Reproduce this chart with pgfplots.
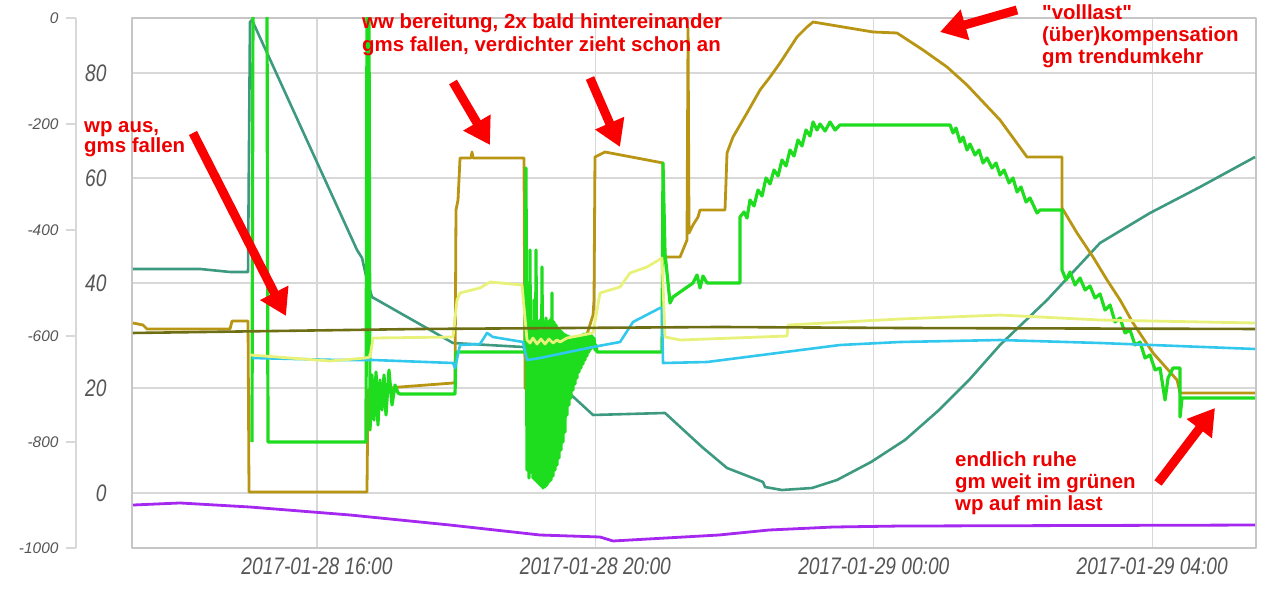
\documentclass[border=0pt]{standalone}
\usepackage{pgfplots}
\pgfplotsset{compat=1.18}
\usepackage{fontspec}
\setmainfont{Liberation Sans}[Ligatures=TeXOff]
\newfontfamily\narrowit{Liberation Sans}[FakeStretch=0.8]
\usetikzlibrary{arrows.meta}
\definecolor{cteal}{RGB}{61,154,128}
\definecolor{cgold}{RGB}{184,150,20}
\definecolor{cgreen}{RGB}{30,220,30}
\definecolor{cyell}{RGB}{232,242,122}
\definecolor{colive}{RGB}{110,110,20}
\definecolor{cblue}{RGB}{50,200,238}
\definecolor{cpurp}{RGB}{165,40,240}
\definecolor{cred}{RGB}{238,0,0}
\definecolor{carrow}{RGB}{250,0,0}
\definecolor{cgrid}{RGB}{216,216,216}
\definecolor{ctick}{RGB}{85,85,85}
\begin{document}
\begin{tikzpicture}
\useasboundingbox (-132bp,-43bp) rectangle (1148bp,548bp);
% outer (left) axis -1000..0
\begin{axis}[at={(-56bp,0bp)}, anchor=south west, scale only axis,
  width=1124bp, height=530bp, xmin=0, xmax=1, ymin=-1000, ymax=0,
  axis y line*=left, hide x axis,
  ytick={-1000,-800,-600,-400,-200,0},
  yticklabels={-1000,-800,-600,-400,-200,0},
  y axis line style={draw=cgrid, line width=1.2bp},
  ytick style={draw=cgrid, line width=1.2bp},
  tick align=outside, major tick length=10bp,
  yticklabel style={font=\itshape\fontsize{15.5}{16}\selectfont, text=ctick, xshift=-4bp}]
\addplot[draw=none, forget plot] coordinates {(0.5,-500)};
\end{axis}
% main axis
\begin{axis}[at={(0bp,0bp)}, anchor=south west, scale only axis,
  width=1124bp, height=530bp,
  xmin=13.342, xmax=29.491, ymin=-10.476, ymax=90.476,
  xtick={16,20,24,28},
  xticklabels={2017-01-28 16:00,2017-01-28 20:00,2017-01-29 00:00,2017-01-29 04:00},
  ytick={0,20,40,60,80}, yticklabels={0,20,40,60,80},
  grid=major, grid style={draw=cgrid, line width=1.2bp},
  axis line style={draw=gray!45, line width=1.2bp},
  major tick length=0pt,
  tick label style={font=\narrowit\itshape\fontsize{24}{24}\selectfont, text=ctick},
  xticklabel style={yshift=-6bp},
  yticklabel style={xshift=-22bp},
  line join=round]
% teal
\addplot[cteal, line width=2.6bp] coordinates {
(13.356,42.67)(14.319,42.67)(14.750,42.10)(15.009,42.10)(15.037,89.71)(15.066,90.10)
(16.575,46.29)(16.647,44.76)(16.718,40.57)(16.790,37.33)(17.954,28.57)(18.960,27.81)
(19.276,23.43)(19.606,19.24)(19.966,14.86)(21.000,15.24)(21.532,8.76)(21.891,4.76)
(22.408,2.10)(22.437,1.14)(22.681,0.57)(23.112,0.95)(23.471,2.48)(23.960,5.90)
(24.448,10.10)(24.937,15.81)(25.368,21.52)(25.813,28.19)(26.489,36.76)(27.250,47.62)
(27.968,53.33)(28.687,58.29)(29.477,64.00)};
% gold
\addplot[cgold, line width=2.8bp] coordinates {
(13.356,32.38)(13.500,32.00)(13.557,31.24)(14.750,31.24)(14.779,32.76)(15.009,32.76)
(15.023,0.19)(16.718,0.19)(16.733,19.62)(17.193,20.19)(17.954,20.95)(17.983,20.95)
(17.997,53.90)(18.026,55.81)(18.055,63.81)(18.213,63.81)(18.227,64.95)(18.241,63.81)
(18.974,63.81)(18.989,20.00)(19.204,17.71)(19.420,20.57)(19.606,24.76)(19.822,27.81)
(19.966,33.90)(19.980,36.76)(19.994,64.00)(20.138,64.95)(20.971,62.86)(20.986,44.95)
(21.216,44.95)(21.316,48.19)(21.331,88.57)(21.345,49.52)(21.402,51.05)(21.474,52.57)
(21.503,53.90)(21.862,53.90)(21.891,64.76)(21.977,67.81)(22.178,72.38)(22.365,76.76)
(22.509,79.24)(22.652,81.90)(22.897,86.86)(23.040,88.76)(23.127,89.71)(23.989,87.81)
(24.333,87.62)(24.707,84.38)(25.052,81.14)(25.339,77.71)(25.813,71.05)(26.201,64.00)
(26.704,64.00)(26.704,54.29)(26.920,49.52)(27.150,44.95)(27.351,40.57)(27.538,36.76)
(27.724,32.38)(28.012,26.67)(28.357,21.52)(28.400,19.05)(29.477,19.05)};
% green
\addplot[cgreen, line width=3.2bp] coordinates {
(15.066,9.71)(15.080,92.00)(15.282,92.00)(15.296,9.71)(16.704,9.71)(16.718,92.00)
(16.747,92.00)(16.762,12.00)(16.790,22.48)(16.819,13.90)(16.848,23.05)(16.876,12.95)
(16.905,21.52)(16.934,15.81)(16.963,22.48)(16.991,14.86)(17.034,23.43)(17.078,16.76)
(17.121,20.57)(17.164,19.05)(17.193,18.86)(17.983,18.86)(17.997,26.86)(18.989,26.86)
(19.003,61.90)(19.017,4.38)(19.032,32.57)(19.046,2.86)(19.060,46.29)(19.075,4.00)
(19.089,32.57)(19.103,2.86)(19.118,36.76)(19.132,2.48)(19.147,46.29)(19.161,2.10)
(19.175,32.57)(19.190,1.71)(19.204,32.95)(19.218,1.33)(19.233,43.05)(19.247,0.95)
(19.261,32.57)(19.276,1.14)(19.290,33.33)(19.305,1.52)(19.319,32.57)(19.333,2.10)
(19.348,32.95)(19.362,2.48)(19.376,38.10)(19.391,3.24)(19.405,32.57)(19.420,4.38)
(19.434,32.00)(19.448,5.33)(19.463,31.43)(19.477,6.67)(19.491,31.05)(19.506,8.19)
(19.520,30.67)(19.535,9.71)(19.549,30.29)(19.563,11.62)(19.578,30.10)(19.592,14.86)
(19.606,29.90)(19.621,16.76)(19.635,29.71)(19.649,18.10)(19.664,29.52)(19.678,19.62)
(19.693,29.52)(19.707,20.76)(19.721,29.52)(19.736,21.90)(19.750,29.71)(19.764,23.05)
(19.779,29.90)(19.793,23.81)(19.808,30.10)(19.822,24.57)(19.836,30.29)(19.851,25.33)
(19.865,30.29)(19.879,26.10)(19.894,30.29)(19.908,26.86)(19.923,30.29)(19.937,27.43)
(19.951,29.90)(19.966,28.00)(19.980,29.52)(19.994,27.24)(20.009,28.19)(20.023,26.86)
(20.957,26.86)(20.971,62.86)
(21.000,45.71)(21.072,36.19)(21.115,37.33)(21.402,40.00)(21.460,41.52)(21.503,39.05)
(21.546,41.33)(21.604,40.00)(22.078,40.00)(22.078,52.57)(22.135,53.52)(22.178,52.38)
(22.221,55.81)(22.279,54.67)(22.336,57.71)(22.394,56.57)(22.451,60.00)(22.509,58.86)
(22.566,61.52)(22.624,60.38)(22.681,63.43)(22.739,62.29)(22.796,65.33)(22.853,64.19)
(22.911,67.24)(22.968,66.10)(23.026,69.14)(23.083,68.00)(23.127,70.67)(23.184,69.14)
(23.227,70.29)(23.299,68.95)(23.371,70.67)(23.443,69.14)(23.514,70.10)(25.095,70.10)
(25.138,68.57)(25.181,69.52)(25.239,66.86)(25.282,67.81)(25.339,65.33)(25.382,66.48)
(25.454,64.38)(25.512,65.33)(25.569,62.86)(25.627,63.81)(25.698,61.90)(25.756,62.86)
(25.813,60.57)(25.871,61.52)(25.943,59.05)(26.000,60.00)(26.058,57.33)(26.115,58.29)
(26.187,55.43)(26.244,56.19)(26.345,53.33)(26.388,53.90)(26.704,53.90)(26.704,42.48)
(26.762,40.57)(26.819,42.10)(26.891,39.62)(26.963,40.95)(27.035,38.67)(27.106,39.43)
(27.178,37.14)(27.250,37.90)(27.322,34.86)(27.394,35.81)(27.466,32.57)(27.538,33.33)
(27.609,30.48)(27.681,31.05)(27.753,28.19)(27.825,28.76)(27.897,25.71)(27.968,26.29)
(28.041,23.43)(28.112,23.81)(28.184,17.71)(28.227,21.90)(28.299,23.81)(28.400,23.81)
(28.400,14.48)(28.428,18.10)(29.477,18.10)};
% light blue
\addplot[cblue, line width=2.6bp] coordinates {
(15.066,25.71)(16.330,25.33)(16.805,25.33)(17.954,24.76)(17.983,23.81)(18.055,28.19)
(18.342,28.38)(18.443,30.48)(18.529,29.71)(18.960,28.76)(19.017,25.33)(19.204,25.71)
(19.966,27.81)(20.354,28.76)(20.540,32.57)(20.928,35.24)(20.957,35.24)(20.971,24.76)
(21.604,24.95)(23.514,28.19)(24.377,28.76)(25.813,29.14)(27.250,28.57)(29.477,27.43)};
% light yellow
\addplot[cyell, line width=2.8bp] coordinates {
(15.037,26.29)(16.187,25.14)(16.690,25.71)(16.762,25.90)(16.805,29.52)(17.954,29.71)
(18.012,36.76)(18.055,38.10)(18.342,39.05)(18.486,40.19)(18.945,39.62)(19.017,29.14)
(19.060,28.57)(19.103,29.52)(19.161,28.38)(19.218,29.33)(19.276,28.38)(19.333,29.33)
(19.391,28.57)(19.448,29.14)(19.491,28.76)(19.592,29.52)(19.966,30.48)(20.066,38.10)
(20.354,39.24)(20.497,41.90)(20.741,43.05)(20.957,44.76)(21.000,29.71)(21.216,29.14)
(22.753,29.90)(22.767,32.00)(24.377,33.14)(25.813,33.90)(27.250,32.95)(29.477,32.38)};
% dark olive
\addplot[colive, line width=2.6bp] coordinates {
(13.356,30.48)(17.480,31.24)(21.790,31.62)(24.377,31.43)(29.477,31.24)};
% purple
\addplot[cpurp, line width=2.8bp] coordinates {
(13.356,-2.29)(14.032,-1.90)(15.037,-2.67)(16.474,-4.19)(17.911,-6.10)(19.204,-8.00)
(20.066,-8.38)(20.253,-9.14)(21.776,-8.00)(22.494,-7.05)(23.414,-6.48)(24.377,-6.29)
(29.477,-6.10)};
\end{axis}
% annotations in pixel coordinates of the reference
\begin{scope}[x=1bp, y=-1bp, shift={(-132bp,548bp)}]
\tikzset{ann/.style={anchor=base west, inner sep=0pt, text=cred,
  font=\bfseries\fontsize{20.5}{23}\selectfont},
  arr/.style={draw=carrow, line width=9bp, -{Triangle[length=26bp,width=30bp]}}}
\draw[arr] (193,133) -- (286,316);
\draw[arr] (453,82) -- (490,145);
\draw[arr] (590,78) -- (620,147);
\draw[arr] (1017,10) -- (940,32);
\draw[arr] (1158,483) -- (1215,408);
\node[ann] at (84,133) {wp aus,};
\node[ann] at (84,153) {gms fallen};
\node[ann] at (362,29) {ww bereitung, 2x bald hintereinander};
\node[ann] at (362,52) {gms fallen, verdichter zieht schon an};
\node[ann] at (1042,20) {"volllast"};
\node[ann] at (1042,42) {(über)kompensation};
\node[ann] at (1042,64) {gm trendumkehr};
\node[ann] at (955,467) {endlich ruhe};
\node[ann] at (955,489) {gm weit im grünen};
\node[ann] at (955,511) {wp auf min last};
\end{scope}
\end{tikzpicture}
\end{document}
